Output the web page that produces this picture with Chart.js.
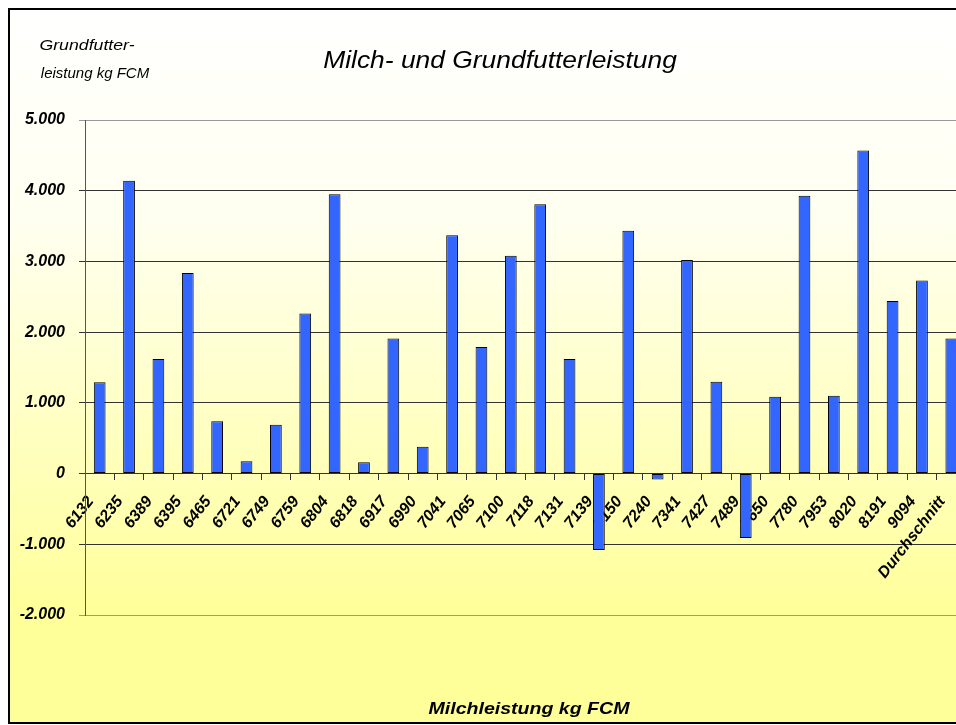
<!DOCTYPE html>
<html>
<head>
<meta charset="utf-8">
<script src="https://cdn.jsdelivr.net/npm/chart.js@4"></script>
<style>
  html,body{margin:0;padding:0;background:#fff;overflow:hidden;}
  #wrap{width:956px;height:725px;overflow:hidden;position:relative;}
  canvas{position:absolute;left:0;top:0;}
</style>
</head>
<body>
<div id="wrap"><canvas id="chart" width="980" height="725"></canvas></div>
<script>
// Milchleistung (kg FCM) je Betrieb, letzte Spalte = Durchschnitt
const categories = ['6132','6235','6389','6395','6465','6721','6749','6759','6804','6818',
  '6917','6990','7041','7065','7100','7118','7131','7139','7150','7240',
  '7341','7427','7489','7650','7780','7953','8020','8191','9094','Durchschnitt'];
// Grundfutterleistung kg FCM
const values = [1290,4140,1620,2835,740,175,690,2265,3950,160,
  1910,380,3370,1790,3080,3810,1620,-1080,3435,-85,
  3020,1300,-910,1085,3930,1100,4570,2440,2730,1910];

const yMin = -2000, yMax = 5000, yStep = 1000;
const chartTitle = 'Milch- und Grundfutterleistung';
const yTitle = ['Grundfutter-', 'leistung kg FCM'];
const xTitle = 'Milchleistung kg FCM';

const FONT = '"Liberation Sans", Arial, sans-serif';

// 5000 -> "5.000"
function fmt(v){
  const s = String(Math.abs(v)).replace(/\B(?=(\d{3})+(?!\d))/g, '.');
  return (v < 0 ? '-' : '') + s;
}

function stretchText(ctx, text, x, y, font, sx){
  ctx.save();
  ctx.font = font;
  ctx.textAlign = 'center';
  ctx.textBaseline = 'middle';
  ctx.fillStyle = '#000';
  ctx.translate(x, y);
  ctx.scale(sx, 1);
  ctx.fillText(text, 0, 0);
  ctx.restore();
}

const frame = {
  id: 'frame',
  beforeDraw(chart){
    const ctx = chart.ctx;
    ctx.save();
    ctx.fillStyle = '#fff';
    ctx.fillRect(0, 0, chart.width, chart.height);
    const g = ctx.createLinearGradient(0, 10, 0, 620);
    g.addColorStop(0, '#ffffff');
    g.addColorStop(0.35, '#fffff0');
    g.addColorStop(0.7, '#ffffc0');
    g.addColorStop(1, '#ffff99');
    ctx.fillStyle = g;
    ctx.fillRect(9, 9, chart.width, 714);
    ctx.strokeStyle = '#000';
    ctx.lineWidth = 2;
    ctx.strokeRect(9, 9, chart.width + 10, 714);
    ctx.restore();
  },
  afterDraw(chart){
    const ctx = chart.ctx;
    stretchText(ctx, chartTitle, 500, 61, 'italic 24px ' + FONT, 1.1);
    stretchText(ctx, yTitle[0], 87, 46, 'italic 15px ' + FONT, 1.18);
    stretchText(ctx, yTitle[1], 95, 74, 'italic 15px ' + FONT, 1);
    stretchText(ctx, xTitle, 529, 709, 'italic bold 17px ' + FONT, 1.15);
  }
};

const tickFont = {family: FONT, size: 16, style: 'italic', weight: 'bold'};

new Chart(document.getElementById('chart'), {
  type: 'bar',
  data: {
    labels: categories,
    datasets: [{
      data: values,
      backgroundColor: '#3366ff',
      borderColor: '#000',
      borderWidth: 1,
      borderSkipped: false,
      barPercentage: 0.4,
      categoryPercentage: 1
    }]
  },
  options: {
    responsive: false,
    animation: false,
    layout: {padding: {top: 120, bottom: 110, left: 0, right: 14}},
    plugins: {legend: {display: false}, tooltip: {enabled: false}},
    scales: {
      x: {
        position: {y: 0},
        grid: {drawOnChartArea: false, drawTicks: true, tickLength: 6, color: '#333', offset: true},
        border: {display: true, color: '#333', width: 1},
        ticks: {color: '#000', font: tickFont, minRotation: 52, maxRotation: 52, autoSkip: false,
                padding: 13, labelOffset: -9}
      },
      y: {
        min: yMin, max: yMax,
        afterFit(s){ s.width = 85; },
        ticks: {stepSize: yStep, callback: v => fmt(v), color: '#000', font: tickFont, padding: 14},
        grid: {
          tickLength: 6,
          color: c => (c.tick && (c.tick.value === yMax || c.tick.value === yMin)) ? '#9a9a9a' : '#333'
        },
        border: {display: true, color: '#555', width: 1}
      }
    }
  },
  plugins: [frame]
});
</script>
</body>
</html>
